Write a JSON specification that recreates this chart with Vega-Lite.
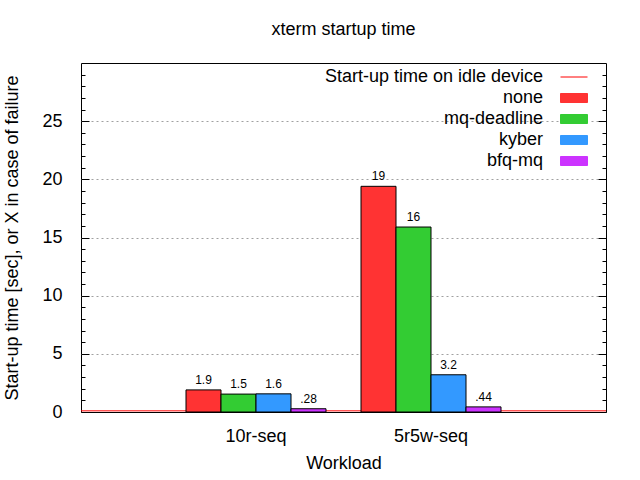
{
  "$schema": "https://vega.github.io/schema/vega-lite/v6.json",
  "width": 525,
  "height": 349,
  "autosize": "none",
  "padding": {"left": 81, "top": 63, "right": 34, "bottom": 68},
  "background": "white",
  "config": {
    "font": "Liberation Sans",
    "view": {"stroke": "black", "strokeWidth": 1},
    "axis": {
      "labelFont": "Liberation Sans",
      "titleFont": "Liberation Sans",
      "labelFontSize": 18,
      "titleFontSize": 18,
      "titleFontWeight": "normal",
      "labelColor": "black",
      "titleColor": "black"
    }
  },
  "title": {
    "text": "xterm startup time",
    "font": "Liberation Sans",
    "fontSize": 18,
    "fontWeight": "normal",
    "anchor": "middle",
    "baseline": "alphabetic",
    "offset": 10,
    "color": "black"
  },
  "datasets": {
    "bars": [
      {"workload": "10r-seq", "scheduler": "none", "value": 1.9, "label": "1.9"},
      {"workload": "10r-seq", "scheduler": "mq-deadline", "value": 1.54, "label": "1.5"},
      {"workload": "10r-seq", "scheduler": "kyber", "value": 1.56, "label": "1.6"},
      {"workload": "10r-seq", "scheduler": "bfq-mq", "value": 0.28, "label": ".28"},
      {"workload": "5r5w-seq", "scheduler": "none", "value": 19.4, "label": "19"},
      {"workload": "5r5w-seq", "scheduler": "mq-deadline", "value": 15.9, "label": "16"},
      {"workload": "5r5w-seq", "scheduler": "kyber", "value": 3.2, "label": "3.2"},
      {"workload": "5r5w-seq", "scheduler": "bfq-mq", "value": 0.44, "label": ".44"}
    ],
    "idle": [
      {"series": "Start-up time on idle device", "value": 0.1}
    ]
  },
  "layer": [
    {
      "data": {"name": "idle"},
      "mark": {"type": "rule", "strokeWidth": 1},
      "encoding": {
        "y": {
          "field": "value",
          "type": "quantitative",
          "scale": {"domain": [0, 30], "nice": false},
          "axis": {
            "orient": "left",
            "values": [0,1,2,3,4,5,6,7,8,9,10,11,12,13,14,15,16,17,18,19,20,21,22,23,24,25,26,27,28,29],
            "labelExpr": "datum.value % 5 === 0 && datum.value <= 25 ? datum.label : ''",
            "grid": true,
            "gridDash": [2, 3],
            "gridColor": "#a0a0a0",
            "gridOpacity": {"condition": {"test": "datum.value % 5 === 0 && datum.value > 0", "value": 1}, "value": 0},
            "tickSize": {"condition": {"test": "datum.value % 5 === 0", "value": -8}, "value": -4},
            "tickColor": "black",
            "domain": false,
            "labelPadding": 27,
            "title": "Start-up time [sec], or X in case of failure",
            "titlePadding": 20
          }
        },
        "color": {
          "field": "series",
          "type": "nominal",
          "scale": {
            "domain": ["Start-up time on idle device", "none", "mq-deadline", "kyber", "bfq-mq"],
            "range": ["#ff0000", "#ff3333", "#33cc33", "#3399ff", "#cc33ff"]
          },
          "legend": {
            "title": null,
            "orient": "none",
            "legendX": 484,
            "legendY": 5,
            "padding": 0,
            "labelAlign": "right",
            "labelOffset": -40,
            "labelFont": "Liberation Sans",
            "labelFontSize": 18,
            "labelColor": "black",
            "symbolSize": 81,
            "symbolType": "M-3,-1H3V1H-3Z",
            "rowPadding": 3,
            "fillColor": "white",
            "labelLimit": 400,
            "encode": {
              "symbols": {
                "update": {
                  "shape": {"signal": "datum.value === 'Start-up time on idle device' ? 'M-3,0H3' : 'M-3,-1H3V1H-3Z'"},
                  "fill": {"signal": "datum.value === 'Start-up time on idle device' ? 'transparent' : scale('color', datum.value)"},
                  "stroke": {"signal": "datum.value === 'Start-up time on idle device' ? '#ff0000' : 'black'"},
                  "strokeWidth": {"value": 1},
                  "opacity": {"value": 1}
                }
              }
            }
          }
        }
      }
    },
    {
      "data": {"name": "bars"},
      "mark": {"type": "bar", "stroke": "black", "strokeWidth": 1, "opacity": 1},
      "encoding": {
        "x": {
          "field": "workload",
          "type": "nominal",
          "sort": ["10r-seq", "5r5w-seq"],
          "scale": {"paddingInner": 0.2, "paddingOuter": 0.6},
          "axis": {
            "title": "Workload",
            "labelAngle": 0,
            "ticks": false,
            "domain": false,
            "labelPadding": 15,
            "titlePadding": 9
          }
        },
        "xOffset": {
          "field": "scheduler",
          "type": "nominal",
          "sort": ["none", "mq-deadline", "kyber", "bfq-mq"],
          "scale": {"paddingInner": 0, "paddingOuter": 0}
        },
        "y": {
          "field": "value",
          "type": "quantitative",
          "axis": {
            "orient": "right",
            "values": [0,1,2,3,4,5,6,7,8,9,10,11,12,13,14,15,16,17,18,19,20,21,22,23,24,25,26,27,28,29],
            "labels": false,
            "grid": false,
            "domain": false,
            "title": null,
            "tickSize": {"condition": {"test": "datum.value % 5 === 0", "value": -8}, "value": -4},
            "tickColor": "black"
          }
        },
        "color": {
          "field": "scheduler",
          "type": "nominal",
          "scale": {
            "domain": ["Start-up time on idle device", "none", "mq-deadline", "kyber", "bfq-mq"],
            "range": ["#ff0000", "#ff3333", "#33cc33", "#3399ff", "#cc33ff"]
          }
        }
      }
    },
    {
      "data": {"name": "bars"},
      "mark": {"type": "text", "baseline": "alphabetic", "dy": -6, "fontSize": 12, "font": "Liberation Sans", "color": "black"},
      "encoding": {
        "x": {"field": "workload", "type": "nominal", "sort": ["10r-seq", "5r5w-seq"]},
        "xOffset": {"field": "scheduler", "type": "nominal", "sort": ["none", "mq-deadline", "kyber", "bfq-mq"]},
        "y": {"field": "value", "type": "quantitative", "axis": null},
        "text": {"field": "label"}
      }
    }
  ],
  "resolve": {"axis": {"y": "independent"}}
}
